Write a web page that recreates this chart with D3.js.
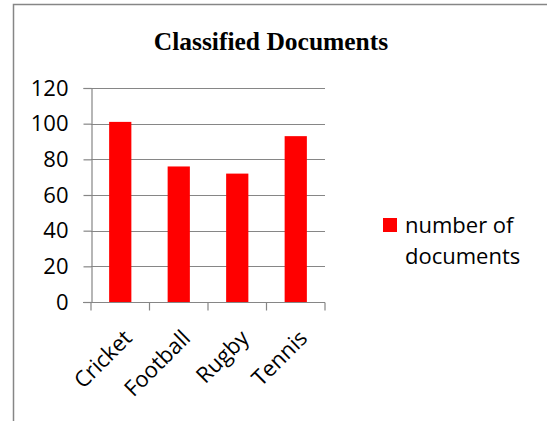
<!DOCTYPE html>
<html><head><meta charset="utf-8">
<script src="https://cdn.jsdelivr.net/npm/d3@7/dist/d3.min.js"></script>
<style>body{margin:0;background:#fff}svg{display:block}</style>
</head><body>
<script>
const categories = ["Cricket", "Football", "Rugby", "Tennis"];
const values = [101, 76, 72, 93];
const yTicks = [0, 20, 40, 60, 80, 100, 120];
const seriesName = ["number of", "documents"];
const title = "Classified Documents";

const W = 547, H = 421;
const svg = d3.select("body").append("svg").attr("width", W).attr("height", H);
svg.append("rect").attr("x", 13.5).attr("y", 4.5).attr("width", 560).attr("height", 440)
  .attr("fill", "#fff").attr("stroke", "#868686").attr("stroke-width", 1.5);

svg.append("text").attr("x", 271).attr("y", 50).attr("text-anchor", "middle")
  .attr("font-family", "Liberation Serif").attr("font-weight", "bold").attr("font-size", 25.5)
  .text(title);

const x = d3.scaleBand().domain(categories).range([91, 325]).paddingInner(0.62).paddingOuter(0.31);
const y = d3.scaleLinear().domain([0, 120]).range([302, 88]);

const font = "Open Sans";
const fs = 22;
// gridlines
svg.append("g").selectAll("line").data(yTicks.filter(d => d > 0)).join("line")
  .attr("x1", 91).attr("x2", 325).attr("y1", d => Math.round(y(d)) + 0.5).attr("y2", d => Math.round(y(d)) + 0.5)
  .attr("stroke", "#868686").attr("stroke-width", 1.2);

// bars
svg.append("g").selectAll("rect").data(values).join("rect")
  .attr("x", (d, i) => x(categories[i])).attr("width", x.bandwidth())
  .attr("y", d => y(d)).attr("height", d => y(0) - y(d)).attr("fill", "#ff0000");

// y axis
const ya = svg.append("g").attr("transform", "translate(91.5,0)")
  .call(d3.axisLeft(y).tickValues(yTicks).tickSize(8).tickPadding(15).tickFormat(d3.format("d")));
ya.select(".domain").attr("stroke", "#868686").attr("stroke-width", 1.2);
ya.selectAll(".tick line").attr("stroke", "#868686").attr("stroke-width", 1.2);
ya.selectAll(".tick text").attr("font-family", font).attr("font-size", fs).attr("fill", "#000");

// x axis
const xEdges = d3.scaleLinear().domain([0, 4]).range([91, 325]);
const xa = svg.append("g").attr("transform", "translate(0,302.5)");
xa.append("line").attr("x1", 83).attr("x2", 325).attr("stroke", "#868686").attr("stroke-width", 1.2);
xa.selectAll("line.t").data(d3.range(5)).join("line").attr("class", "t")
  .attr("x1", d => xEdges(d)).attr("x2", d => xEdges(d)).attr("y1", 0).attr("y2", 8)
  .attr("stroke", "#868686").attr("stroke-width", 1.2);
xa.selectAll("text").data(categories).join("text")
  .attr("transform", d => `translate(${x(d) + x.bandwidth() / 2 + 13},${37}) rotate(-45)`)
  .attr("text-anchor", "end").attr("font-family", font).attr("font-size", fs).text(d => d);

// legend
const lg = svg.append("g");
lg.append("rect").attr("x", 383).attr("y", 218).attr("width", 14).attr("height", 14).attr("fill", "#ff0000");
lg.selectAll("text").data(seriesName).join("text")
  .attr("x", 405).attr("y", (d, i) => 233 + i * 31)
  .attr("font-family", font).attr("font-size", fs).text(d => d);
</script>
</body></html>
